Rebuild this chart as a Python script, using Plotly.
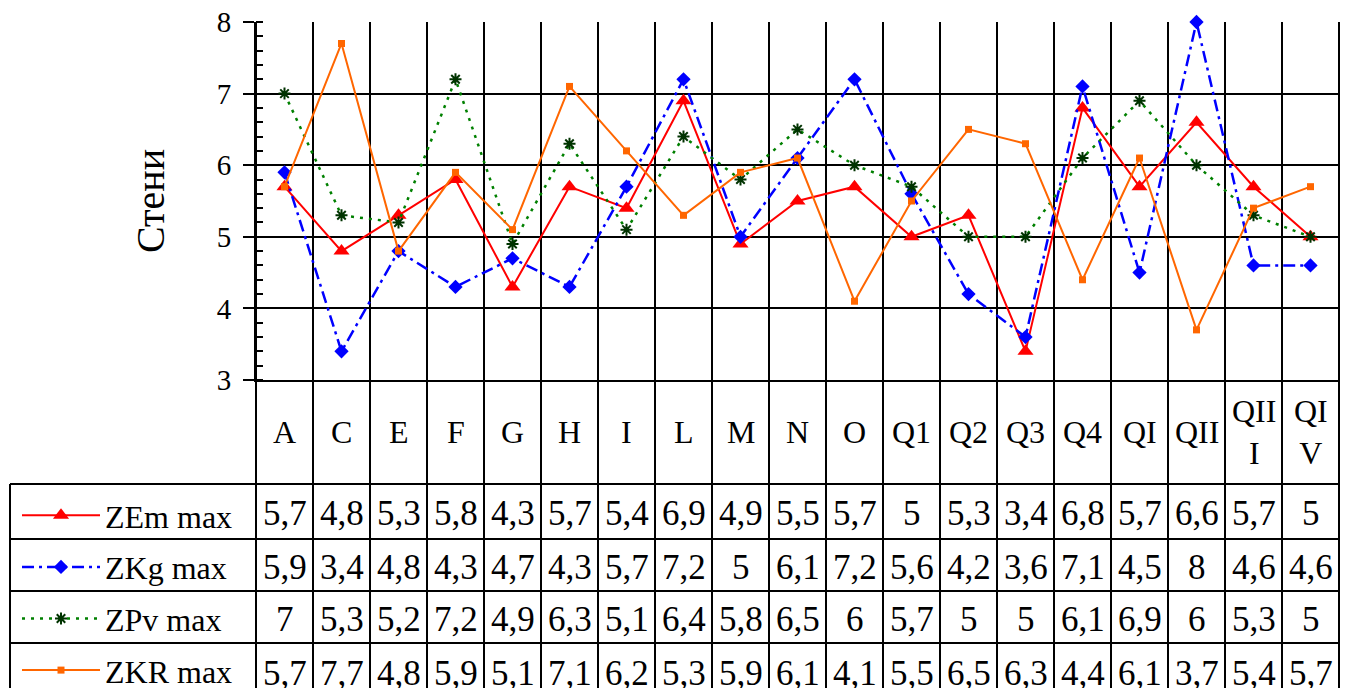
import plotly.graph_objects as go

# ---------------- data ----------------
categories = ['A', 'C', 'E', 'F', 'G', 'H', 'I', 'L', 'M', 'N', 'O',
              'Q1', 'Q2', 'Q3', 'Q4', 'QI', 'QII', 'QIII', 'QIV']
category_labels = ['A', 'C', 'E', 'F', 'G', 'H', 'I', 'L', 'M', 'N', 'O',
                   'Q1', 'Q2', 'Q3', 'Q4', 'QI', 'QII', 'QII<br>I', 'QI<br>V']
series_names = ['ZEm max', 'ZKg max', 'ZPv max', 'ZKR max']
zem_max = [5.7, 4.8, 5.3, 5.8, 4.3, 5.7, 5.4, 6.9, 4.9, 5.5, 5.7, 5, 5.3, 3.4, 6.8, 5.7, 6.6, 5.7, 5]
zkg_max = [5.9, 3.4, 4.8, 4.3, 4.7, 4.3, 5.7, 7.2, 5, 6.1, 7.2, 5.6, 4.2, 3.6, 7.1, 4.5, 8, 4.6, 4.6]
zpv_max = [7, 5.3, 5.2, 7.2, 4.9, 6.3, 5.1, 6.4, 5.8, 6.5, 6, 5.7, 5, 5, 6.1, 6.9, 6, 5.3, 5]
zkr_max = [5.7, 7.7, 4.8, 5.9, 5.1, 7.1, 6.2, 5.3, 5.9, 6.1, 4.1, 5.5, 6.5, 6.3, 4.4, 6.1, 3.7, 5.4, 5.7]
y_title = 'Стени'
y_range = [3, 8]

series_values = [zem_max, zkg_max, zpv_max, zkr_max]

# ---------------- styles / geometry ----------------
FONT = 'Liberation Serif'
OFF = 8                                      # page body margin
W, H = 1349 - OFF, 688 - OFF
PL, PR, PT, PB = 256 - OFF, 1339 - OFF, 22 - OFF, 380 - OFF   # plot area (figure px)
PH = PB - PT


def ypap(p):
    return (PB - p) / PH


def xpap(p):
    return (p - PL) / (PR - PL)


row_edges = [e - OFF for e in [380, 484, 539, 591, 643, 700]]
styles = [
    dict(line=dict(color='#FF0000', width=2),
         marker=dict(symbol='triangle-up', size=14, color='#FF0000')),
    dict(line=dict(color='#0000FF', width=2.5, dash='12px,5px,3px,5px'),
         marker=dict(symbol='diamond', size=11, color='#0000FF')),
    dict(line=dict(color='#008000', width=2.5, dash='3px,6px'),
         marker=dict(symbol='asterisk-open', size=10, color='#003300',
                     line=dict(color='#003300', width=2))),
    dict(line=dict(color='#FF6600', width=2),
         marker=dict(symbol='square', size=7, color='#FF6600')),
]

fig = go.Figure()
for k, (name, vals) in enumerate(zip(series_names, series_values)):
    fig.add_trace(go.Scatter(x=categories, y=vals, name=name, mode='lines+markers',
                             legendgroup=name, cliponaxis=False, **styles[k]))

shapes = []
n = len(categories)
bottom = ypap(row_edges[-1])
# vertical column lines through plot and table
for k in range(n + 1):
    shapes.append(dict(type='line', xref='x domain', yref='paper', x0=k / n, x1=k / n,
                       y0=1, y1=bottom, line=dict(color='black', width=2), layer='below'))
# horizontal table lines
for e in row_edges[1:-1]:
    shapes.append(dict(type='line', xref='paper', yref='paper', x0=xpap(10 - OFF), x1=1,
                       y0=ypap(e), y1=ypap(e), line=dict(color='black', width=2)))
# left border of legend column
shapes.append(dict(type='line', xref='paper', yref='paper', x0=xpap(10 - OFF), x1=xpap(10 - OFF),
                   y0=ypap(row_edges[1]), y1=bottom, line=dict(color='black', width=2)))

annotations = []
cat_center = (row_edges[0] + row_edges[1]) / 2
for c, lab in zip(categories, category_labels):
    annotations.append(dict(x=c, xref='x', y=ypap(cat_center), yref='paper', text=lab,
                            showarrow=False, yanchor='middle', xanchor='center',
                            font=dict(family=FONT, size=32, color='black')))


def fmt(v):
    return ('%g' % v).replace('.', ',')


for r, vals in enumerate(series_values):
    yc = (row_edges[r + 1] + row_edges[r + 2]) / 2 + 2
    for c, v in zip(categories, vals):
        annotations.append(dict(x=c, xref='x', y=ypap(yc), yref='paper', text=fmt(v),
                                showarrow=False, yanchor='middle', xanchor='center',
                                font=dict(family=FONT, size=35, color='black')))

fig.update_layout(
    width=W, height=H,
    font=dict(family=FONT, color='black'),
    margin=dict(l=PL, r=W - PR, t=PT, b=H - PB, autoexpand=False),
    paper_bgcolor='white', plot_bgcolor='rgba(0,0,0,0)',
    shapes=shapes, annotations=annotations,
    showlegend=True,
    legend=dict(x=xpap(9), xanchor='left', y=ypap(480), yanchor='top',
                font=dict(family=FONT, size=32, color='black'),
                tracegroupgap=7, bgcolor='rgba(0,0,0,0)', itemwidth=78),
    xaxis=dict(type='category', categoryorder='array', categoryarray=categories,
               range=[-0.5, n - 0.5], showticklabels=False, ticks='', showgrid=False,
               showline=True, linecolor='black', linewidth=2, zeroline=False),
    yaxis=dict(range=y_range, dtick=1, tick0=3, showgrid=True, gridcolor='black', gridwidth=2,
               showline=True, linecolor='black', linewidth=2, zeroline=False,
               ticks='outside', ticklen=11, tickwidth=2, tickcolor='black',
               ticklabelstandoff=6, ticklabeloverflow='allow',
               tickfont=dict(family=FONT, size=29, color='black'),
               minor=dict(dtick=0.2, ticks='inside', ticklen=7, tickwidth=2,
                          tickcolor='black', showgrid=False),
               title=dict(text=y_title, font=dict(family=FONT, size=40, color='black'),
                          standoff=40)),
)

fig.write_html('out.html')
